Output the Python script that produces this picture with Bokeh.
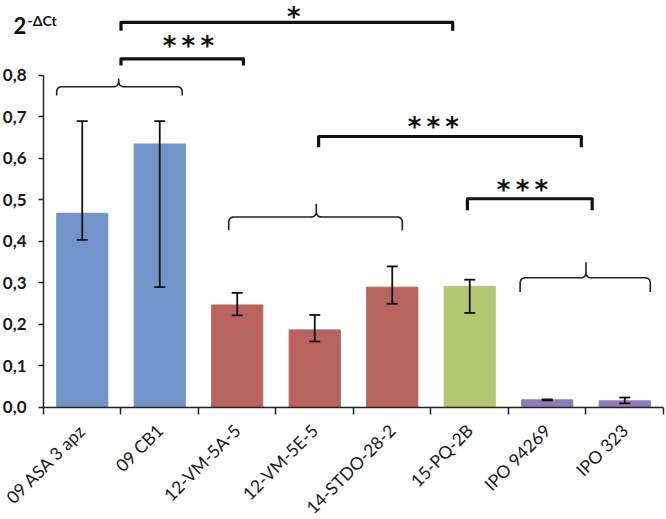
import math
from bokeh.plotting import figure
from bokeh.models import (ColumnDataSource, FixedTicker, Whisker, TeeHead, Range1d)
from bokeh.core.properties import value
from bokeh.embed import file_html
from bokeh.resources import INLINE

# ---- data ----
categories = ["09 ASA 3 apz", "09 CB1", "12-VM-5A-5", "12-VM-5E-5",
              "14-STDO-28-2", "15-PQ-2B", "IPO 94269", "IPO 323"]
values = [0.468, 0.635, 0.247, 0.187, 0.290, 0.292, 0.0185, 0.016]
err_upper = [0.690, 0.690, 0.276, 0.223, 0.340, 0.308, 0.0195, 0.024]
err_lower = [0.404, 0.290, 0.222, 0.159, 0.250, 0.228, 0.0170, 0.010]
groups = ["a", "a", "b", "b", "b", "c", "d", "d"]
group_colors = {"a": "#7295C9", "b": "#B9635E", "c": "#B3C671", "d": "#8E7CB8"}
y_ticks = [0.0, 0.1, 0.2, 0.3, 0.4, 0.5, 0.6, 0.7, 0.8]
y_tick_labels = ["0,0", "0,1", "0,2", "0,3", "0,4", "0,5", "0,6", "0,7", "0,8"]
y_title_base = "2"
y_title_sup = "-ΔCt"

# significance brackets: x0, x1, y_top, y_drop, label, label_x, label_y
sig_x0 = [1.00, 1.00, 3.55, 5.47]
sig_x1 = [5.28, 2.58, 6.94, 7.08]
sig_top = [0.928, 0.840, 0.653, 0.503]
sig_drop = [0.908, 0.824, 0.627, 0.475]
sig_text = ["*", "* * *", "* * *", "* * *"]
sig_tx = [3.23, 1.87, 5.03, 6.18]
sig_ty = [0.978, 0.870, 0.677, 0.524]   # first one: top of text box

# curly braces: x0, x1, x_peak, y_end, y_flat, y_peak
brace_x0 = [0.17, 2.39, 6.15]
brace_x1 = [1.79, 4.63, 7.83]
brace_xp = [0.97, 3.52, 7.00]
brace_yend = [0.752, 0.427, 0.278]
brace_yflat = [0.773, 0.459, 0.3125]
brace_ypeak = [0.793, 0.491, 0.350]

n = len(categories)
xc = [i + 0.5 for i in range(n)]

p = figure(width=665, height=518, output_backend="svg", toolbar_location=None,
           x_range=Range1d(-0.5548, 8.026), y_range=Range1d(-0.2675, 0.9807),
           min_border_left=0, min_border_right=0, min_border_top=0,
           min_border_bottom=0, title=None)
p.outline_line_color = None
p.xgrid.grid_line_color = None
p.ygrid.grid_line_color = None

src = ColumnDataSource(dict(x=xc, top=values, upper=err_upper, lower=err_lower,
                            color=[group_colors[g] for g in groups]))
p.vbar(x="x", top="top", bottom=0, width=0.66, color="color", source=src)

head_u = TeeHead(size=11, line_width=1.8, line_color="#111111")
head_l = TeeHead(size=11, line_width=1.8, line_color="#111111")
p.add_layout(Whisker(base="x", upper="upper", lower="lower", source=src,
                     line_width=1.8, line_color="#111111", level="overlay",
                     upper_head=head_u, lower_head=head_l))

# significance brackets
xs, ys = [], []
for a, b, t, d in zip(sig_x0, sig_x1, sig_top, sig_drop):
    xs.append([a, a, b, b])
    ys.append([d, t, t, d])
p.multi_line(xs, ys, line_width=3.2, line_color="#111111", line_join="round")
star_labels = [s.replace(" ", "\u2009") for s in sig_text]
p.text(x=sig_tx[:1], y=sig_ty[:1], text=star_labels[:1],
       text_align="center", text_baseline="top", text_font=value("DejaVu Sans"),
       text_font_style="bold", text_font_size="26px", text_color="#111111")
p.text(x=sig_tx[1:], y=sig_ty[1:], text=star_labels[1:],
       text_align="center", text_baseline="alphabetic", text_font=value("DejaVu Sans"),
       text_font_style="bold", text_font_size="26px", text_color="#111111")

# curly braces
def qbez(p0, c, p1, k=8):
    pts = []
    for i in range(k + 1):
        t = i / k
        pts.append(((1 - t) ** 2 * p0[0] + 2 * (1 - t) * t * c[0] + t ** 2 * p1[0],
                    (1 - t) ** 2 * p0[1] + 2 * (1 - t) * t * c[1] + t ** 2 * p1[1]))
    return pts

rx, ry = 0.07, 0.014
bx, by = [], []
for x0, x1, xp, ye, yf, yp in zip(brace_x0, brace_x1, brace_xp, brace_yend, brace_yflat, brace_ypeak):
    pts = [(x0, ye)]
    pts += qbez((x0, yf - ry), (x0, yf), (x0 + rx, yf))
    pts += qbez((xp - rx, yf), (xp, yf), (xp, yf + ry))
    pts += [(xp, yp)]
    pts += qbez((xp, yf + ry), (xp, yf), (xp + rx, yf))
    pts += qbez((x1 - rx, yf), (x1, yf), (x1, yf - ry))
    pts += [(x1, ye)]
    bx.append([q[0] for q in pts])
    by.append([q[1] for q in pts])
p.multi_line(bx, by, line_width=1.6, line_color="#222222")

# y-axis title 2^-ΔCt
p.text(x=[-0.387], y=[0.920], text=[y_title_base], text_font=value("Lato"),
       text_font_style="bold", text_font_size="22px", text_color="#111111",
       text_baseline="alphabetic", text_align="left")
p.text(x=[-0.207], y=[0.932], text=[y_title_sup], text_font=value("Lato"),
       text_font_style="bold", text_font_size="14px", text_color="#111111",
       text_baseline="alphabetic", text_align="left")

# axes
xa = p.xaxis[0]
xa.fixed_location = 0
xa.ticker = FixedTicker(ticks=xc, minor_ticks=list(range(n + 1)))
xa.major_label_overrides = {x: c for x, c in zip(xc, categories)}
xa.major_label_orientation = math.pi / 4
xa.bounds = (0, n)
xa.major_tick_line_color = None
xa.major_tick_out = 0
xa.major_tick_in = 0
xa.minor_tick_out = 7
xa.minor_tick_in = 0
xa.minor_tick_line_color = "#222222"
xa.minor_tick_line_width = 1.5
xa.axis_line_color = "#222222"
xa.axis_line_width = 1.5
xa.major_label_text_font = "Lato"
xa.major_label_text_font_size = "17.5px"
xa.major_label_text_color = "#1a1a1a"
xa.major_label_standoff = 13

ya = p.yaxis[0]
ya.fixed_location = 0
ya.ticker = FixedTicker(ticks=y_ticks)
ya.major_label_overrides = {t: l for t, l in zip(y_ticks, y_tick_labels)}
ya.bounds = (0, 0.8)
ya.minor_tick_line_color = None
ya.major_tick_out = 5
ya.major_tick_in = 0
ya.major_tick_line_color = "#222222"
ya.major_tick_line_width = 1.5
ya.axis_line_color = "#222222"
ya.axis_line_width = 1.5
ya.major_label_text_font = "Lato"
ya.major_label_text_font_style = "bold"
ya.major_label_text_font_size = "17px"
ya.major_label_text_color = "#1a1a1a"
ya.major_label_standoff = 12

open("out.html", "w").write(file_html(p, INLINE))
